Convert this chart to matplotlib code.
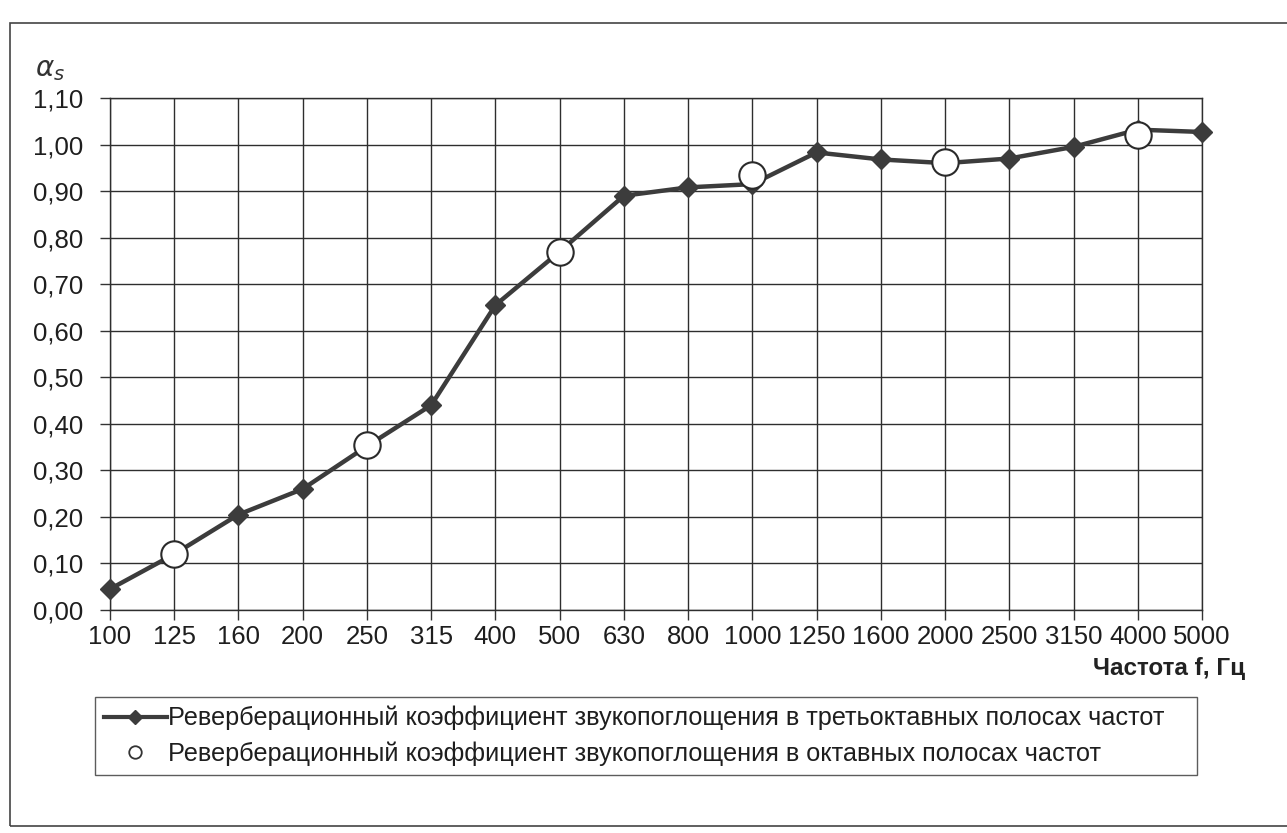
import matplotlib
matplotlib.use('Agg')
from matplotlib import pyplot as plt
from matplotlib.patches import Rectangle
from matplotlib.lines import Line2D

# third-octave bands
freqs = ['100', '125', '160', '200', '250', '315', '400', '500', '630',
         '800', '1000', '1250', '1600', '2000', '2500', '3150', '4000', '5000']
alpha_third = [0.045, 0.12, 0.205, 0.26, 0.352, 0.44, 0.655, 0.77, 0.89,
               0.908, 0.915, 0.983, 0.968, 0.96, 0.97, 0.995, 1.032, 1.027]

# octave bands
oct_freqs = ['125', '250', '500', '1000', '2000', '4000']
alpha_oct = [0.12, 0.355, 0.77, 0.934, 0.962, 1.02]

label_third = 'Реверберационный коэффициент звукопоглощения в третьоктавных полосах частот'
label_oct = 'Реверберационный коэффициент звукопоглощения в октавных полосах частот'

plt.rc('font', family=['Liberation Sans', 'DejaVu Sans'])
fig = plt.figure(figsize=(12.87, 8.33), dpi=100)
ax = fig.add_axes([110 / 1287, 1 - 610 / 833, 1092 / 1287, 512 / 833])

dark = '#3c3c3c'
x_third = list(range(len(freqs)))
x_oct = [freqs.index(f) for f in oct_freqs]

ax.plot(x_third, alpha_third, color=dark, lw=3.2, marker='D', ms=10,
        mfc=dark, mec=dark, zorder=3, clip_on=False)
ax.plot(x_oct, alpha_oct, ls='none', marker='o', ms=19, mfc='white',
        mec='#2a2a2a', mew=1.5, zorder=4, clip_on=False)

ax.set_xlim(0, len(freqs) - 1)
ax.set_ylim(0, 1.1)
ax.set_xticks(x_third)
ax.set_xticklabels(freqs)
yt = [i / 10 for i in range(12)]
ax.set_yticks(yt)
ax.set_yticklabels([('%.2f' % v).replace('.', ',') for v in yt])
ax.tick_params(labelsize=18.5, length=7, width=1, color='#333333',
               labelcolor='#1e1e1e')
ax.tick_params(axis='x', pad=4)
ax.tick_params(axis='y', pad=12)
ax.grid(True, color='#2e2e2e', lw=1)
ax.set_axisbelow(True)
for s in ax.spines.values():
    s.set_color('#2e2e2e')
    s.set_linewidth(1)

fig.text(50 / 1287, 1 - 70 / 833, r'$\alpha_s$', fontsize=20, color='#333333',
         ha='center', va='center')
fig.text(1245 / 1287, 1 - 668 / 833, 'Частота f, Гц', fontsize=17.5,
         fontweight='bold', color='#222222', ha='right', va='center')

handles = [Line2D([], [], color=dark, lw=3, marker='D', ms=7),
           Line2D([], [], ls='none', marker='o', ms=9, mfc='white',
                  mec='#333333', mew=1.3)]
leg = fig.legend(handles, [label_third, label_oct], loc='upper left',
                 bbox_to_anchor=(95 / 1287, 1 - 697 / 833, 1102 / 1287, 0),
                 mode='expand', fontsize=18.2, frameon=True, fancybox=False,
                 handlelength=2.5, handletextpad=0.05, borderpad=0.35,
                 labelspacing=0.45, borderaxespad=0)
leg.get_frame().set_edgecolor('#333333')
leg.get_frame().set_linewidth(1)
for t in leg.get_texts():
    t.set_color('#1e1e1e')

fig.patches.append(Rectangle((10 / 1287, 1 - 826 / 833), 1.1, 803 / 833,
                             transform=fig.transFigure, fill=False,
                             ec='#444444', lw=1.2))

fig.savefig('out.png', dpi=100)
